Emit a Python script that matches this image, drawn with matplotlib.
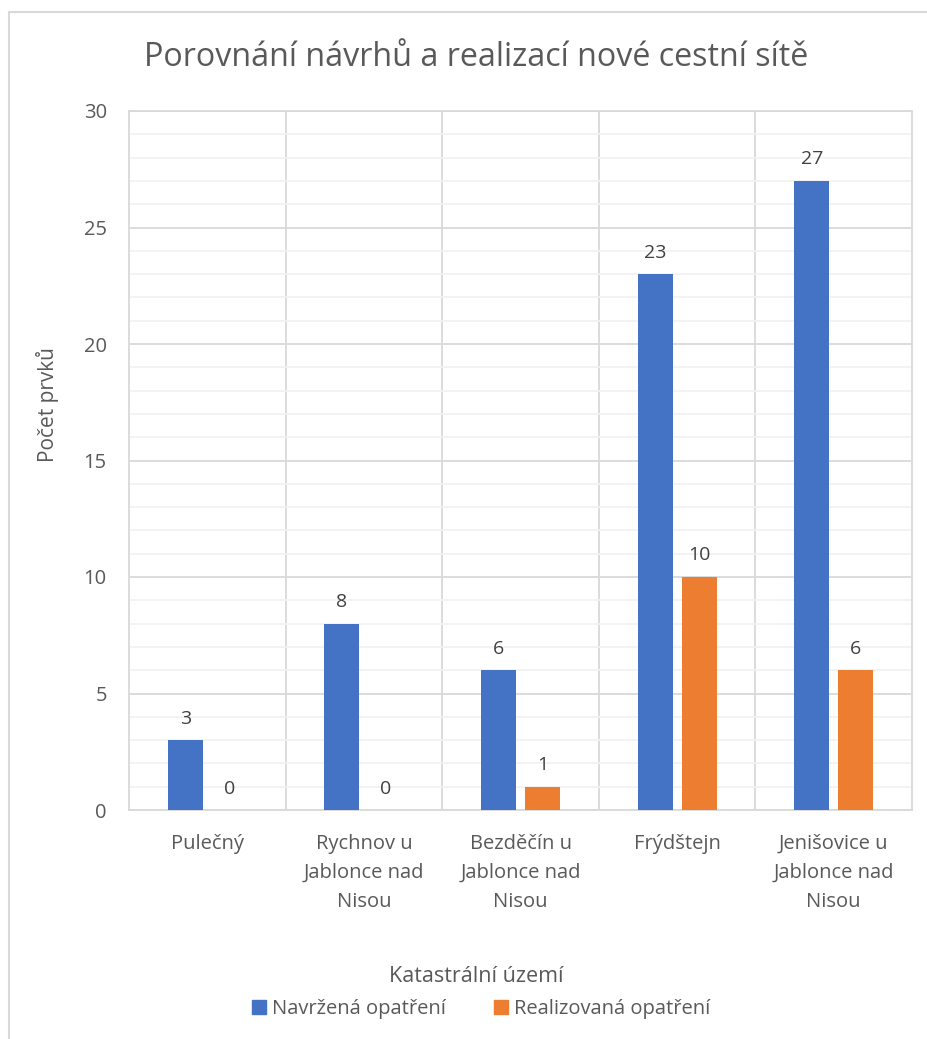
import numpy as np
import matplotlib.pyplot as plt
from matplotlib.patches import Patch, Rectangle

plt.rcParams['font.family'] = ['Open Sans', 'DejaVu Sans']

# data
categories = ['Pulečný', 'Rychnov u\nJablonce nad\nNisou', 'Bezděčín u\nJablonce nad\nNisou',
              'Frýdštejn', 'Jenišovice u\nJablonce nad\nNisou']
navrzena = [3, 8, 6, 23, 27]
realizovana = [0, 0, 1, 10, 6]

blue = '#4472C4'
orange = '#ED7D31'
txt = '#595959'

fig = plt.figure(figsize=(9.28, 10.39), dpi=100)
ax = fig.add_axes([129/928, 1-810/1039, (912-129)/928, (810-111)/1039])

x = np.arange(len(categories))
w = 0.224
off = 0.1405
b1 = ax.bar(x - off, navrzena, w, color=blue, zorder=3, label='Navržená opatření')
b2 = ax.bar(x + off, realizovana, w, color=orange, zorder=3, label='Realizovaná opatření')

for bars, vals in [(b1, navrzena), (b2, realizovana)]:
    for r, v in zip(bars, vals):
        ax.annotate(str(v), (r.get_x() + r.get_width()/2, v), xytext=(0, 9),
                    textcoords='offset points', ha='center', va='bottom',
                    fontsize=14, color='#404040')

ax.set_xlim(-0.5, len(categories) - 0.5)
ax.set_ylim(0, 30)
ax.set_yticks(range(0, 31, 5))
ax.set_yticks(range(0, 31, 1), minor=True)
ax.grid(axis='y', which='major', color='#d9d9d9', lw=1.3, zorder=1)
ax.grid(axis='y', which='minor', color='#f2f2f2', lw=1.3, zorder=0)
for b in np.arange(0.5, len(categories) - 0.5, 1):
    ax.axvline(b, color='#d9d9d9', lw=1.3, zorder=1)
for s in ax.spines.values():
    s.set_color('#d9d9d9')
    s.set_linewidth(1.3)

ax.set_xticks(x)
ax.set_xticklabels(categories, linespacing=1.6)
ax.tick_params(axis='both', which='both', length=0, labelsize=14.5, colors=txt)
ax.tick_params(axis='x', pad=17)
ax.tick_params(axis='y', pad=16)

fig.text(48/928, 1-405/1039, 'Počet prvků', rotation=90, ha='center', va='center',
         fontsize=15, color=txt)
fig.text(476/928, 1-57/1039, 'Porovnání návrhů a realizací nové cestní sítě',
         ha='center', va='center', fontsize=23.2, color=txt)
fig.text(476/928, 1-977/1039, 'Katastrální území', ha='center', va='center',
         fontsize=15.5, color=txt)

fig.legend(handles=[Patch(color=blue, label='Navržená opatření'),
                    Patch(color=orange, label='Realizovaná opatření')],
           loc='center', bbox_to_anchor=(481/928, 1-1009/1039), ncol=2, frameon=False,
           fontsize=14.5, labelcolor=txt, handlelength=0.7, handleheight=0.7,
           handletextpad=0.3, columnspacing=2.4, borderpad=0)

# chart border
fig.patches.append(Rectangle((9/928, -0.1), 1.2, 1-12/1039 + 0.1, transform=fig.transFigure,
                             fill=False, edgecolor='#d9d9d9', lw=1.5, clip_on=False))

fig.savefig('out.png', dpi=100)
